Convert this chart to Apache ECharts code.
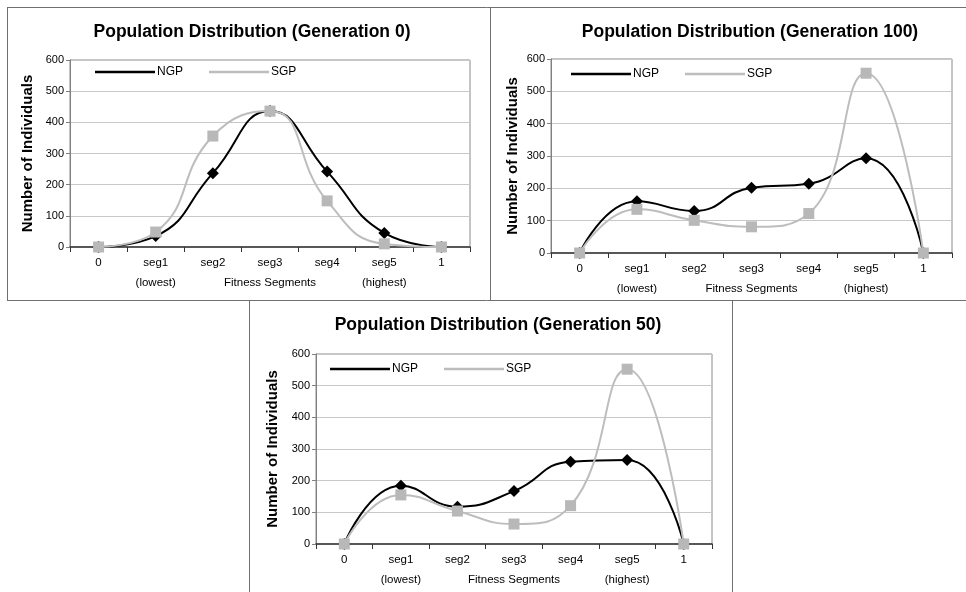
<!DOCTYPE html>
<html>
<head>
<meta charset="utf-8">
<script src="https://cdn.jsdelivr.net/npm/echarts@6/dist/echarts.min.js"></script>
<style>
html,body{margin:0;padding:0;background:#fff;}
#chart{width:966px;height:592px;}
</style>
</head>
<body>
<div id="chart"></div>
<script>
var categories = ['0', 'seg1', 'seg2', 'seg3', 'seg4', 'seg5', '1'];
var subLabels = ['', '(lowest)', '', '', '', '(highest)', ''];
var yTicks = [0, 100, 200, 300, 400, 500, 600];
var xAxisTitle = 'Fitness Segments';
var yAxisTitle = 'Number of Individuals';
var panelTitles = ['Population Distribution (Generation 0)', 'Population Distribution (Generation 100)', 'Population Distribution (Generation 50)'];
var seriesNames = ['NGP', 'SGP'];

var gen0NGP = [0, 35, 237, 436, 242, 45, 0];
var gen0SGP = [0, 48, 356, 436, 148, 10, 0];
var gen100NGP = [0, 160, 130, 202, 214, 293, 0];
var gen100SGP = [0, 135, 101, 81, 122, 556, 0];
var gen50NGP = [0, 184, 118, 167, 260, 265, 0];
var gen50SGP = [0, 155, 104, 63, 121, 552, 0];

var panelData = [[gen0NGP, gen0SGP], [gen100NGP, gen100SGP], [gen50NGP, gen50SGP]];

var FONT = '"Liberation Sans", Arial, sans-serif';
var BLACK = '#000000';
var GREY = '#bdbdbd';

var layouts = [
  {grid: {left: 70, top: 60, width: 400, height: 187}, titleX: 252, titleY: 23, yGap: 35, legendX: 95, legendY: 66},
  {grid: {left: 551, top: 59, width: 401, height: 194}, titleX: 750, titleY: 23, yGap: 31, legendX: 571, legendY: 68},
  {grid: {left: 316, top: 354, width: 396, height: 190}, titleX: 498, titleY: 316, yGap: 36, legendX: 330, legendY: 363}
];

var chart = echarts.init(document.getElementById('chart'), null, {renderer: 'canvas'});

var option = {
  backgroundColor: '#ffffff',
  animation: false,
  title: [], grid: [], xAxis: [], yAxis: [], series: [], legend: [],
  graphic: []
};

layouts.forEach(function (L, p) {
  option.title.push({
    text: panelTitles[p], left: L.titleX, top: L.titleY, textAlign: 'center', padding: 0,
    textStyle: {fontFamily: FONT, fontSize: 17.5, fontWeight: 'bold', color: '#000'}
  });
  option.grid.push(Object.assign({show: true, borderColor: '#8a8a8a', borderWidth: 1, backgroundColor: 'transparent'}, L.grid));
  option.xAxis.push({
    type: 'category', gridIndex: p, data: categories, boundaryGap: true,
    name: xAxisTitle, nameLocation: 'middle', nameGap: 30, nameMoveOverlap: false,
    nameTextStyle: {fontFamily: FONT, fontSize: 11.5, color: '#000'},
    axisLine: {lineStyle: {color: '#333', width: 1.5}},
    axisTick: {show: true, length: 5, lineStyle: {color: '#333'}},
    axisLabel: {
      interval: 0, hideOverlap: false,
      margin: 6, fontFamily: FONT, fontSize: 11.5, color: '#000', lineHeight: 20,
      formatter: function (v, i) { return v + '\n' + (subLabels[i] || ' '); }
    },
    splitLine: {show: false}
  });
  option.yAxis.push({
    type: 'value', gridIndex: p, min: yTicks[0], max: yTicks[yTicks.length - 1], interval: 100,
    name: yAxisTitle, nameLocation: 'middle', nameGap: L.yGap, nameMoveOverlap: false,
    nameTextStyle: {fontFamily: FONT, fontSize: 15, fontWeight: 'bold', color: '#000'},
    axisLine: {show: true, lineStyle: {color: '#808080', width: 1}},
    axisTick: {show: true, length: 4, lineStyle: {color: '#808080'}},
    axisLabel: {margin: 6, fontFamily: FONT, fontSize: 11, color: '#000'},
    splitLine: {show: true, lineStyle: {color: '#c8c8c8', width: 1}}
  });
  option.series.push({
    name: seriesNames[0], type: 'line', xAxisIndex: p, yAxisIndex: p, data: panelData[p][0],
    smooth: 0.5, symbol: 'diamond', symbolSize: 12,
    lineStyle: {color: BLACK, width: 2}, itemStyle: {color: BLACK}, z: 3
  });
  option.series.push({
    name: seriesNames[1], type: 'line', xAxisIndex: p, yAxisIndex: p, data: panelData[p][1],
    smooth: 0.5, symbol: 'rect', symbolSize: 11,
    lineStyle: {color: GREY, width: 2}, itemStyle: {color: '#b8b8b8'}, z: 4
  });
  option.legend.push({
    left: L.legendX, top: L.legendY, orient: 'horizontal', itemGap: 26, itemWidth: 60, itemHeight: 2.5,
    padding: 0, selectedMode: false,
    textStyle: {fontFamily: FONT, fontSize: 12, color: '#000', padding: [0, 0, 0, -3]},
    data: [
      {name: seriesNames[0], icon: 'rect', itemStyle: {color: BLACK}},
      {name: seriesNames[1], icon: 'rect', itemStyle: {color: GREY}}
    ]
  });
});

var lineStyle = {stroke: '#707070', lineWidth: 1};
function seg(x1, y1, x2, y2) {
  return {type: 'line', silent: true, shape: {x1: x1, y1: y1, x2: x2, y2: y2}, style: lineStyle};
}
option.graphic = [
  seg(7, 7.5, 966, 7.5),
  seg(7.5, 7, 7.5, 301),
  seg(490.5, 7, 490.5, 301),
  seg(7, 300.5, 966, 300.5),
  seg(249.5, 300, 249.5, 592),
  seg(732.5, 300, 732.5, 592)
];

chart.setOption(option);
</script>
</body>
</html>
